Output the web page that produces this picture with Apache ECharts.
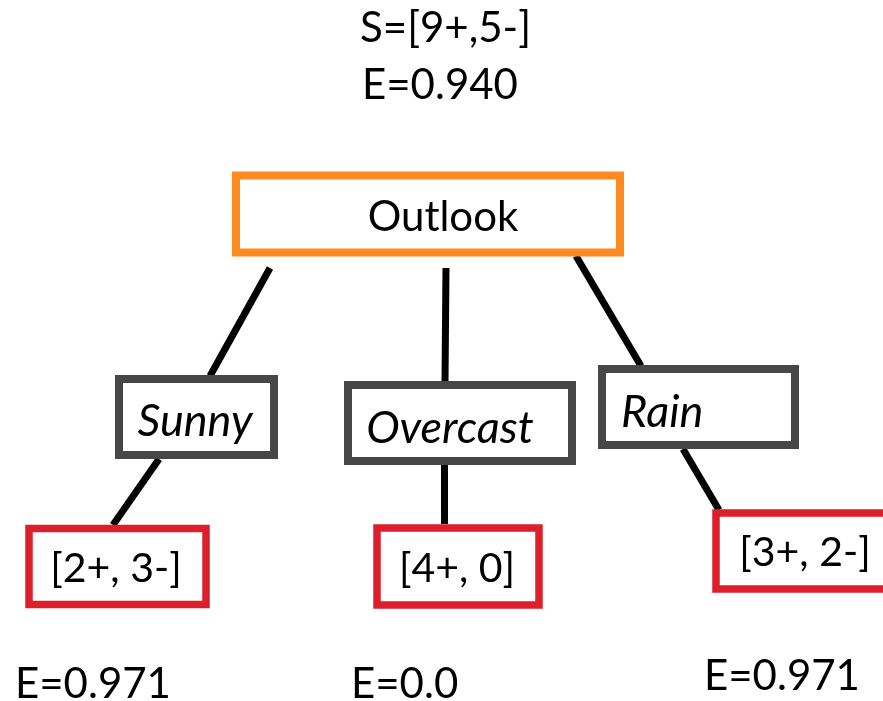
<!DOCTYPE html>
<html lang="en">
<head>
<meta charset="UTF-8" />
<title>Decision tree - Outlook split</title>
<script src="https://cdnjs.cloudflare.com/ajax/libs/echarts/6.0.0/echarts.min.js"></script>
<style>
  * { margin: 0; padding: 0; }
  body { background: #fff; }
  #chart { width: 883px; height: 701px; }
</style>
</head>
<body>
<div id="chart"></div>
<script>
  // tree content
  const nodeLabels = ["Outlook", "Sunny", "Overcast", "Rain", "[2+, 3-]", "[4+, 0]", "[3+, 2-]"];
  const nodeKinds = ["attribute", "value", "value", "value", "leaf", "leaf", "leaf"];
  const rootSample = "S=[9+,5-]";
  const rootEntropy = "E=0.940";
  const leafEntropy = ["E=0.971", "E=0.0", "E=0.971"];

  // layout in diagram units (x to the right, y downwards)
  const nodeBoxes = [
    [236, 175.5, 620, 252.5],
    [119, 379, 274, 455],
    [348, 385, 572, 461],
    [602, 369, 795, 445],
    [29, 528.5, 206, 604.5],
    [377, 528, 539, 605],
    [716, 513, 895, 589]
  ];
  const nodeTextAnchors = [
    [443, 217, "center"],
    [195, 421, "center"],
    [450, 428, "center"],
    [621, 412, "left"],
    [116, 569, "center"],
    [457, 569, "center"],
    [805, 553, "center"]
  ];
  const edges = [
    [[270, 268], [210, 376]],
    [[446, 268], [445, 381]],
    [[576, 256], [641, 366]],
    [[159, 459], [113, 525]],
    [[444, 465], [444, 524]],
    [[683, 449], [719, 510]]
  ];
  const freeTextAnchors = [
    [360, 28], [362, 85],
    [15, 684], [351, 684], [704, 676]
  ];

  const kindStyle = {
    attribute: { stroke: "#FF8A1F", width: 8, font: "42px Lato" },
    value: { stroke: "#474747", width: 8, font: "italic 45px Lato" },
    leaf: { stroke: "#DC1F2A", width: 7.5, font: "41px Lato" }
  };

  const freeTexts = [rootSample, rootEntropy].concat(leafEntropy);

  const chart = echarts.init(document.getElementById("chart"));
  chart.setOption({
    animation: false,
    grid: { left: 0, right: 0, top: 0, bottom: 0 },
    xAxis: { type: "value", min: 0, max: 883, show: false },
    yAxis: { type: "value", min: 0, max: 701, inverse: true, show: false },
    series: [
      {
        type: "lines",
        coordinateSystem: "cartesian2d",
        z: 1,
        lineStyle: { color: "#000", width: 7, opacity: 1 },
        data: edges.map((e) => ({ coords: e }))
      },
      {
        type: "custom",
        coordinateSystem: "cartesian2d",
        z: 2,
        data: nodeLabels.map((_, i) => [i]),
        renderItem: function (params, api) {
          const i = params.dataIndex;
          const b = nodeBoxes[i];
          const p0 = api.coord([b[0], b[1]]);
          const p1 = api.coord([b[2], b[3]]);
          const st = kindStyle[nodeKinds[i]];
          const t = nodeTextAnchors[i];
          const tp = api.coord([t[0], t[1]]);
          return {
            type: "group",
            children: [
              {
                type: "rect",
                shape: { x: p0[0], y: p0[1], width: p1[0] - p0[0], height: p1[1] - p0[1] },
                style: { fill: "#fff", stroke: st.stroke, lineWidth: st.width }
              },
              {
                type: "text",
                style: {
                  text: nodeLabels[i],
                  x: tp[0],
                  y: tp[1],
                  font: st.font,
                  align: t[2],
                  verticalAlign: "middle",
                  fill: "#000"
                }
              }
            ]
          };
        }
      },
      {
        type: "custom",
        coordinateSystem: "cartesian2d",
        z: 3,
        data: freeTexts.map((_, i) => [i]),
        renderItem: function (params, api) {
          const i = params.dataIndex;
          const p = api.coord(freeTextAnchors[i]);
          return {
            type: "text",
            style: {
              text: freeTexts[i],
              x: p[0],
              y: p[1],
              font: "42px Lato",
              align: "left",
              verticalAlign: "middle",
              fill: "#000"
            }
          };
        }
      }
    ]
  });
</script>
</body>
</html>
